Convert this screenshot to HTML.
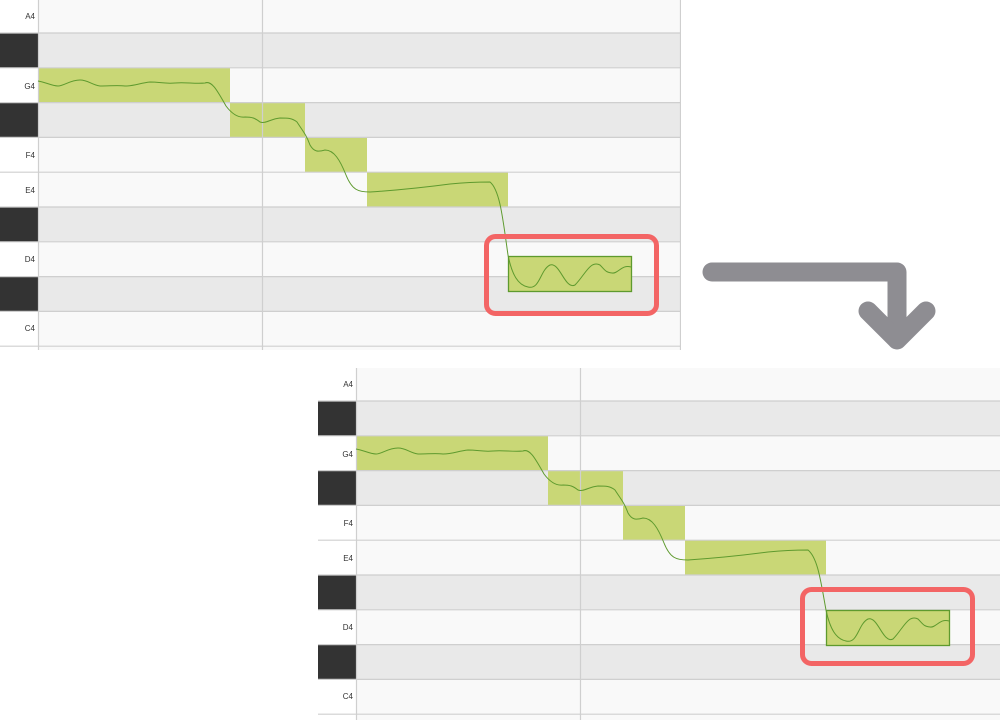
<!DOCTYPE html>
<html><head><style>
html,body{margin:0;padding:0;background:#fff;width:1000px;height:720px;overflow:hidden}
svg{display:block}
text{font-family:"Liberation Sans",sans-serif;font-size:8px;fill:#333}
</style></head><body>
<svg width="1000" height="720" viewBox="0 0 1000 720" xmlns="http://www.w3.org/2000/svg">
<defs><clipPath id="c1"><rect x="0" y="0" width="681" height="350"/></clipPath></defs>
<!-- TOP PANEL -->
<g clip-path="url(#c1)">
 <rect x="0" y="0" width="681" height="350" fill="#f9f9f9"/>
 <rect x="38" y="33" width="643" height="34.8" fill="#e9e9e9"/>
 <rect x="38" y="102.6" width="643" height="34.8" fill="#e9e9e9"/>
 <rect x="38" y="207" width="643" height="34.8" fill="#e9e9e9"/>
 <rect x="38" y="276.6" width="643" height="34.8" fill="#e9e9e9"/>
 <rect x="0" y="0" width="38" height="350" fill="#fff"/>
 <rect x="0" y="33" width="38" height="34.8" fill="#333"/>
 <rect x="0" y="102.6" width="38" height="34.8" fill="#333"/>
 <rect x="0" y="207" width="38" height="34.8" fill="#333"/>
 <rect x="0" y="276.6" width="38" height="34.8" fill="#333"/>
 <rect x="38" y="67.8" width="192" height="34.8" fill="#c9d776"/>
 <rect x="230" y="102.6" width="75" height="34.8" fill="#c9d776"/>
 <rect x="305" y="137.4" width="62" height="34.8" fill="#c9d776"/>
 <rect x="367" y="172.2" width="141" height="34.8" fill="#c9d776"/>
 <g stroke="#cfcfcf" stroke-width="1.2">
  <line x1="0" y1="33" x2="681" y2="33"/><line x1="0" y1="67.8" x2="681" y2="67.8"/>
  <line x1="0" y1="102.6" x2="681" y2="102.6"/><line x1="0" y1="137.4" x2="681" y2="137.4"/>
  <line x1="0" y1="172.2" x2="681" y2="172.2"/><line x1="0" y1="207" x2="681" y2="207"/>
  <line x1="0" y1="241.8" x2="681" y2="241.8"/><line x1="0" y1="276.6" x2="681" y2="276.6"/>
  <line x1="0" y1="311.4" x2="681" y2="311.4"/><line x1="0" y1="346.2" x2="681" y2="346.2"/>
  <line x1="38.5" y1="0" x2="38.5" y2="350"/><line x1="262.5" y1="0" x2="262.5" y2="350"/>
  <line x1="680.5" y1="0" x2="680.5" y2="350"/>
 </g>
 <rect x="508.5" y="256.5" width="123" height="35" fill="#c9d776" stroke="#5e9a2e" stroke-width="1.3"/>
 <path d="M38,81 C45,82 52,86 58,86 C64,86 70,80 80,80 C88,80 92,85 100,86 C110,86 118,85 125,86 C135,86 140,83 150,82 C160,82 165,84 175,83 C185,82 195,84 205,83 C212,80 218,92 226,106 C232,114 238,118 245,117 C252,117 255,118 260,122 C266,124 270,119 280,118 C288,118 292,118 297,122 C302,130 306,134 310,145 C314,152 318,152 325,150 C334,150 340,160 346,175 C352,190 358,192 370,192 C400,190 420,188 450,184 C470,182 480,182 490,182 C500,190 503,220 508,255 C512,275 518,285 528,287 C540,290 540,270 550,265 C560,262 565,290 575,285 C585,275 590,260 600,265 C605,270 605,272 612,273 C618,274 622,264 631,267" fill="none" stroke="#5e9a2e" stroke-width="1"/>
 <text x="35" y="19" text-anchor="end">A4</text>
 <text x="35" y="89" text-anchor="end">G4</text>
 <text x="35" y="158" text-anchor="end">F4</text>
 <text x="35" y="193" text-anchor="end">E4</text>
 <text x="35" y="262" text-anchor="end">D4</text>
 <text x="35" y="331" text-anchor="end">C4</text>
</g>
<rect x="486.5" y="236.5" width="170" height="77" rx="9" fill="none" stroke="#f36565" stroke-width="5"/>

<!-- ARROW -->
<g stroke="#8e8d92" stroke-width="19" fill="none" stroke-linecap="round" stroke-linejoin="round">
 <path d="M712,272 H897 V330"/>
 <path d="M868,311 L897,340 L926,311"/>
</g>

<!-- BOTTOM PANEL -->
<g transform="translate(318,368)">
 <rect x="0" y="0" width="682" height="352" fill="#f9f9f9"/>
 <rect x="38" y="33" width="644" height="34.8" fill="#e9e9e9"/>
 <rect x="38" y="102.6" width="644" height="34.8" fill="#e9e9e9"/>
 <rect x="38" y="207" width="644" height="34.8" fill="#e9e9e9"/>
 <rect x="38" y="276.6" width="644" height="34.8" fill="#e9e9e9"/>
 <rect x="0" y="0" width="38" height="352" fill="#fff"/>
 <rect x="0" y="33" width="38" height="34.8" fill="#333"/>
 <rect x="0" y="102.6" width="38" height="34.8" fill="#333"/>
 <rect x="0" y="207" width="38" height="34.8" fill="#333"/>
 <rect x="0" y="276.6" width="38" height="34.8" fill="#333"/>
 <rect x="38" y="67.8" width="192" height="34.8" fill="#c9d776"/>
 <rect x="230" y="102.6" width="75" height="34.8" fill="#c9d776"/>
 <rect x="305" y="137.4" width="62" height="34.8" fill="#c9d776"/>
 <rect x="367" y="172.2" width="141" height="34.8" fill="#c9d776"/>
 <g stroke="#cfcfcf" stroke-width="1.2">
  <line x1="0" y1="33" x2="682" y2="33"/><line x1="0" y1="67.8" x2="682" y2="67.8"/>
  <line x1="0" y1="102.6" x2="682" y2="102.6"/><line x1="0" y1="137.4" x2="682" y2="137.4"/>
  <line x1="0" y1="172.2" x2="682" y2="172.2"/><line x1="0" y1="207" x2="682" y2="207"/>
  <line x1="0" y1="241.8" x2="682" y2="241.8"/><line x1="0" y1="276.6" x2="682" y2="276.6"/>
  <line x1="0" y1="311.4" x2="682" y2="311.4"/><line x1="0" y1="346.2" x2="682" y2="346.2"/>
  <line x1="38.5" y1="0" x2="38.5" y2="352"/><line x1="262.5" y1="0" x2="262.5" y2="352"/>
 </g>
 <rect x="508.5" y="242.5" width="123" height="35" fill="#c9d776" stroke="#5e9a2e" stroke-width="1.3"/>
 <path d="M38,81 C45,82 52,86 58,86 C64,86 70,80 80,80 C88,80 92,85 100,86 C110,86 118,85 125,86 C135,86 140,83 150,82 C160,82 165,84 175,83 C185,82 195,84 205,83 C212,80 218,92 226,106 C232,114 238,118 245,117 C252,117 255,118 260,122 C266,124 270,119 280,118 C288,118 292,118 297,122 C302,130 306,134 310,145 C314,152 318,152 325,150 C334,150 340,160 346,175 C352,190 358,192 370,192 C400,190 420,188 450,184 C470,182 480,182 490,182 C500,190 503,215 508,242 C512,261 518,271 528,273 C540,276 540,256 550,251 C560,248 565,276 575,271 C585,261 590,246 600,251 C605,256 605,258 612,259 C618,260 622,250 631,253" fill="none" stroke="#5e9a2e" stroke-width="1"/>
 <text x="35" y="19" text-anchor="end">A4</text>
 <text x="35" y="89" text-anchor="end">G4</text>
 <text x="35" y="158" text-anchor="end">F4</text>
 <text x="35" y="193" text-anchor="end">E4</text>
 <text x="35" y="262" text-anchor="end">D4</text>
 <text x="35" y="331" text-anchor="end">C4</text>
 <rect x="484.5" y="221.5" width="170" height="74" rx="9" fill="none" stroke="#f36565" stroke-width="5"/>
</g>
</svg>
</body></html>
